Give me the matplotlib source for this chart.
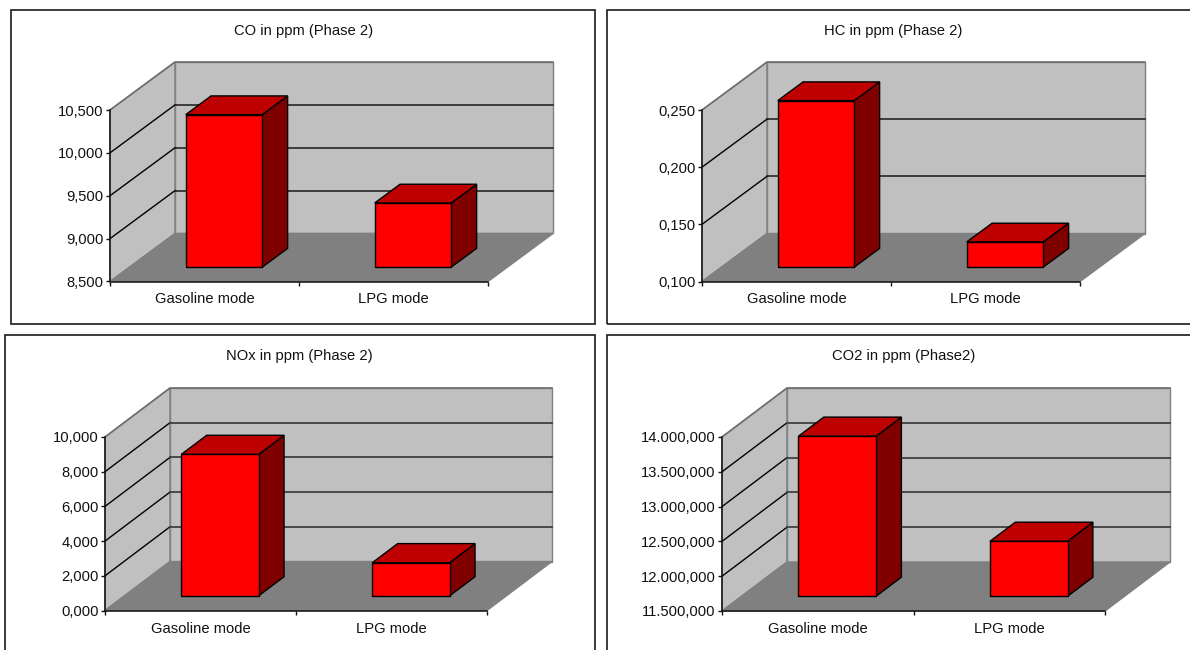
import matplotlib
matplotlib.use("Agg")
import matplotlib.pyplot as plt
from matplotlib.patches import Polygon, Rectangle

plt.rcParams["font.family"] = ["Liberation Sans", "DejaVu Sans"]

FIG_W, FIG_H = 1190, 650

categories = ["Gasoline mode", "LPG mode"]

co_values = [10278, 9248]
hc_values = [0.2456, 0.122]
nox_values = [8150, 1907]
co2_values = [13800000, 12290000]

co_ticks = [8500, 9000, 9500, 10000, 10500]
hc_ticks = [0.10, 0.15, 0.20, 0.25]
nox_ticks = [0, 2000, 4000, 6000, 8000, 10000]
co2_ticks = [11500000, 12000000, 12500000, 13000000, 13500000, 14000000]

co_labels = ["8,500", "9,000", "9,500", "10,000", "10,500"]
hc_labels = ["0,100", "0,150", "0,200", "0,250"]
nox_labels = ["0,000", "2,000", "4,000", "6,000", "8,000", "10,000"]
co2_labels = ["11.500,000", "12.000,000", "12.500,000",
              "13.000,000", "13.500,000", "14.000,000"]

titles = ["CO in ppm (Phase 2)", "HC in ppm (Phase 2)",
          "NOx in ppm (Phase 2)", "CO2 in ppm (Phase2)"]
title_centres = [304, 893, 299, 904]

WALL = "#C0C0C0"
FLOOR = "#808080"
BAR_FRONT = "#FF0000"
BAR_TOP = "#BE0000"
BAR_SIDE = "#800000"
TEXT = "#111111"
FONT_SIZE = 10.6

BAR_WIDTH = 0.405
BAR_NEAR = 0.30    # bar front, as a share of the floor depth
BAR_FAR = 0.69     # bar back, as a share of the floor depth

fig = plt.figure(figsize=(FIG_W / 100, FIG_H / 100), dpi=100, facecolor="white")


def add_frame(left, top, right, bottom):
    fig.add_artist(Rectangle((left / FIG_W, 1 - bottom / FIG_H),
                             (right - left) / FIG_W, (bottom - top) / FIG_H,
                             transform=fig.transFigure, facecolor="none",
                             edgecolor="#1A1A1A", linewidth=1.2))


def draw_panel(frame, plot_box, depth_px, title, title_x, title_y, values,
               ticks, labels, grid_color, grid_width, label_pad):
    add_frame(*frame)
    left, top, right, bottom = plot_box
    ax = fig.add_axes([left / FIG_W, 1 - bottom / FIG_H,
                       (right - left) / FIG_W, (bottom - top) / FIG_H])
    ax.patch.set_visible(False)

    y0, y1 = ticks[0], ticks[-1]
    ax.set_xlim(0, 2)
    ax.set_ylim(y0, y1)

    # oblique projection: depth d moves a point right and up
    dx = depth_px[0] / (right - left) * 2
    dy = depth_px[1] / (bottom - top) * (y1 - y0)

    def pt(x, y, d=0.0):
        return (x + d * dx, y + d * dy)

    def poly(points, **kw):
        kw.setdefault("clip_on", False)
        ax.add_patch(Polygon(points, closed=True, **kw))

    # walls and floor
    poly([pt(0, y0), pt(0, y0, 1), pt(0, y1, 1), pt(0, y1)],
         facecolor=WALL, edgecolor=FLOOR, linewidth=1.0, zorder=1)
    poly([pt(0, y0, 1), pt(2, y0, 1), pt(2, y1, 1), pt(0, y1, 1)],
         facecolor=WALL, edgecolor=FLOOR, linewidth=1.0, zorder=1)
    poly([pt(0, y0), pt(2, y0), pt(2, y0, 1), pt(0, y0, 1)],
         facecolor=FLOOR, edgecolor=FLOOR, linewidth=1.0, zorder=2)

    # gridlines run along the left wall and across the back wall
    for t in ticks[1:-1]:
        xs, ys = zip(pt(0, t), pt(0, t, 1))
        ax.plot(xs, ys, color="black", linewidth=1.0, clip_on=False, zorder=3)
        xs, ys = zip(pt(0, t, 1), pt(2, t, 1))
        ax.plot(xs, ys, color=grid_color, linewidth=grid_width, clip_on=False, zorder=3)
    # top edge of the left wall and back wall
    xs, ys = zip(pt(0, y1), pt(0, y1, 1), pt(2, y1, 1))
    ax.plot(xs, ys, color="#707070", linewidth=1.2, clip_on=False, zorder=3)

    # bars
    for i, v in enumerate(values):
        a = i + 0.5 - BAR_WIDTH / 2
        b = i + 0.5 + BAR_WIDTH / 2
        style = dict(edgecolor="black", linewidth=1.0, joinstyle="miter", zorder=5)
        poly([pt(b, y0, BAR_NEAR), pt(b, y0, BAR_FAR),
              pt(b, v, BAR_FAR), pt(b, v, BAR_NEAR)],
             facecolor=BAR_SIDE, **style)
        poly([pt(a, v, BAR_NEAR), pt(b, v, BAR_NEAR),
              pt(b, v, BAR_FAR), pt(a, v, BAR_FAR)],
             facecolor=BAR_TOP, **style)
        poly([pt(a, y0, BAR_NEAR), pt(b, y0, BAR_NEAR),
              pt(b, v, BAR_NEAR), pt(a, v, BAR_NEAR)],
             facecolor=BAR_FRONT, **style)

    # axes furniture
    for side in ("top", "right"):
        ax.spines[side].set_visible(False)
    for side in ("left", "bottom"):
        ax.spines[side].set_color(TEXT)
        ax.spines[side].set_linewidth(1.1)
        ax.spines[side].set_zorder(4)
    ax.set_yticks(ticks)
    ax.set_yticklabels(labels, fontsize=FONT_SIZE, color=TEXT)
    ax.tick_params(axis="y", length=3, width=1, pad=1.5, color=TEXT)
    ax.set_xticks([0, 1, 2])
    ax.set_xticklabels([])
    ax.set_xticks([0.5, 1.5], minor=True)
    ax.set_xticklabels(categories, minor=True, fontsize=FONT_SIZE, color=TEXT)
    ax.tick_params(axis="x", which="major", length=3, width=1, color=TEXT)
    ax.tick_params(axis="x", which="minor", length=0, pad=label_pad)

    fig.text(title_x / FIG_W, 1 - title_y / FIG_H, title,
             ha="center", va="center", fontsize=FONT_SIZE, color=TEXT)


draw_panel((11, 9.5, 594.5, 324), (110, 110, 488, 281.5), (65, 48),
           titles[0], title_centres[0], 30.5, co_values, co_ticks, co_labels,
           "#1A1A1A", 1.1, 7.2)
draw_panel((607, 9.5, 1200, 324), (702, 110, 1080, 281.5), (65, 48),
           titles[1], title_centres[1], 30.5, hc_values, hc_ticks, hc_labels,
           "#1A1A1A", 1.1, 7.2)
draw_panel((5, 335, 594.5, 660), (105, 437, 487, 610.5), (65, 49),
           titles[2], title_centres[2], 356, nox_values, nox_ticks, nox_labels,
           "#404040", 1.3, 8)
draw_panel((607, 335, 1200, 660), (722, 437, 1105, 611), (65, 49),
           titles[3], title_centres[3], 356, co2_values, co2_ticks, co2_labels,
           "#404040", 1.3, 8)

fig.savefig("out.png", dpi=100)
